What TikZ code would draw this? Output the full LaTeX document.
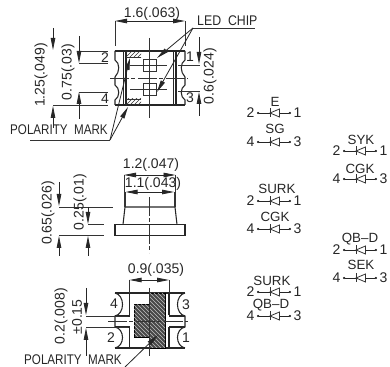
\documentclass[tikz,border=0pt]{standalone}
\usepackage{fontspec}
\setmainfont{Liberation Sans}
\usetikzlibrary{arrows.meta,patterns}
\tikzset{
  part/.style={line width=0.8pt,draw=black!85},
  thin part/.style={line width=0.6pt,draw=black!80},
  centre/.style={line width=0.6pt,draw=black!80,dash pattern=on 14pt off 2pt on 3pt off 2pt},
  dimarrow/.style={line width=0.6pt,draw=black!85,-{Stealth[length=9pt,width=3.4pt,inset=0pt]}},
  leader/.style={line width=0.6pt,draw=black!85,-{Stealth[length=9pt,width=3.4pt,inset=0pt]}},
  lbl/.style={inner sep=0pt,font=\fontsize{10.5pt}{10.5pt}\selectfont,text=black!85},
  cond/.style={lbl,xscale=0.83},
  dlbl/.style={inner sep=0pt,font=\fontsize{10pt}{10pt}\selectfont,text=black!85},
  wire/.style={line width=0.6pt,draw=black!85,{Circle[length=1.6pt]}-{Circle[length=1.6pt]}},
}
\newcommand{\diorow}[8]{%
  \node[dlbl] (#1t) at (#6,#7) {#5};
  \node[lbl] (#1a) at (#2-24.5,#3) {#4};
  \node[lbl] (#1z) at (#2+22.5,#3) {#8};
  \coordinate (#1l) at (#2-18,#3);
  \coordinate (#1r) at (#2+16,#3);
  \coordinate (#1b) at (#2-5,#3);
  \coordinate (#1c) at (#2+4.5,#3);
  \draw[wire] (#1l) -- (#1r);
  \draw[thin part,fill=white] (#1c) ++(0,-4) -- ++(0,8) -- (#1b) -- cycle;
  \draw[thin part] (#1b) ++(0,-4.5) -- ++(0,9);
}
\begin{document}
\begin{tikzpicture}[x=0.75pt,y=-0.75pt]
\useasboundingbox (0,0) rectangle (390,367);
%% ---------- top view
\draw[part] (115,51) -- (185,51);
\draw[part] (115,105) -- (185,105);
\draw[part] (115,51) -- (115,60) .. controls (120,63) and (120,72) .. (115,77) -- (115,85)
   .. controls (120,88) and (120,97) .. (115,100) -- (115,105);
\draw[part] (185,51) -- (185,60) .. controls (180,63) and (180,72) .. (185,77) -- (185,85)
   .. controls (180,88) and (180,97) .. (185,100) -- (185,105);
\draw[part] (123.5,51) -- (123.5,105) (126,51) -- (126,105);
\draw[part] (173.5,51) -- (173.5,105) (176,51) -- (176,105);
\fill[pattern=north east lines,pattern color=black!80] (126,52) rectangle (141,57.5);
\fill[pattern=north east lines,pattern color=black!80] (126,99) rectangle (141,104.5);
\draw[thin part] (126,57.5) -- (141,57.5) (126,99) -- (141,99);
\node[draw=black!80,line width=0.7pt,minimum size=9.7pt,inner sep=0pt] (chipa) at (149.5,65.5) {};
\node[draw=black!80,line width=0.7pt,minimum size=9.7pt,inner sep=0pt] (chipb) at (149.5,89.5) {};
\draw[thin part] (149.5,38) -- (149.5,118);
\draw[thin part] (130,65.5) -- (167,65.5) (130,89.5) -- (167,89.5);
\draw[centre] (110,78) -- (188,78);
%% dims, top view
\coordinate (t1) at (115,21); \coordinate (t2) at (185,21);
\draw[thin part] (115,46) -- (t1) (185,46) -- (t2);
\coordinate (tm) at (150,21);
\draw[dimarrow] (tm) -- (t1);
\draw[dimarrow] (tm) -- (t2);
\node[lbl] (d16) at (152,14) {1.6(.063)};
\draw[thin part] (53,105) -- (108,105) (79,51) -- (108,51) (79,63) -- (108,63) (79,92) -- (108,92);
\coordinate (a1) at (53,28); \coordinate (a2) at (53,50);
\draw[dimarrow] (a1) -- (a2);
\coordinate (a3) at (53,128); \coordinate (a4) at (53,106);
\draw[dimarrow] (a3) -- (a4);
\coordinate (b1) at (79,36); \coordinate (b2) at (79,63);
\draw[dimarrow] (b1) -- (b2);
\coordinate (b3) at (79,119); \coordinate (b4) at (79,92);
\draw[dimarrow] (b3) -- (b4);
\draw[thin part] (178,65) -- (200,65) (178,91) -- (200,91);
\coordinate (c1) at (199,37); \coordinate (c2) at (199,64);
\draw[dimarrow] (c1) -- (c2);
\coordinate (c3) at (199,116); \coordinate (c4) at (199,92);
\draw[dimarrow] (c3) -- (c4);
\node[lbl,rotate=90] (d125) at (41,75) {1.25(.049)};
\node[lbl,rotate=90] (d075) at (68,72) {0.75(.03)};
\node[lbl,rotate=90] (d06) at (210,76) {0.6(.024)};
\node[lbl] (n2) at (105,58) {2};
\node[lbl] (n4) at (105,99) {4};
\node[lbl] (n1) at (190,57) {1};
\node[lbl] (n3) at (190,98) {3};
%% LED chip leader
\node[lbl,anchor=west,xscale=0.88] (led) at (197,21) {LED\ \ CHIP};
\coordinate (lq) at (193,28);
\draw[thin part] (lq) -- (255,28);
\draw[leader] (lq) -- (157,58);
\draw[leader] (lq) -- (157,92);
%% polarity mark
\node[cond,anchor=west] (pol) at (10,130) {POLARITY\ \ MARK};
\coordinate (pq) at (110,140);
\draw[thin part] (30,140) -- (pq);
\draw[leader] (pq) -- (130,58);
\draw[leader] (pq) -- (128,107);
%% ---------- side view
\draw[part] (115,224.5) rectangle (185,235.7);
\draw[part] (123,224.5) -- (125,207) -- (175,207) -- (177,224.5);
\draw[thin part] (124,207) -- (124,175) (175.5,207) -- (175.5,175);
\draw[thin part] (125.5,207) -- (125.5,192) (174,207) -- (174,192);
\draw[centre] (149.5,197) -- (149.5,253);
\coordinate (e0) at (150,175); \coordinate (e1) at (124,175); \coordinate (e2) at (175.5,175);
\draw[dimarrow] (e0) -- (e1);
\draw[dimarrow] (e0) -- (e2);
\coordinate (f0) at (150,192); \coordinate (f1) at (125.5,192); \coordinate (f2) at (174,192);
\draw[dimarrow] (f0) -- (f1);
\draw[dimarrow] (f0) -- (f2);
\node[lbl] (d12) at (151,165) {1.2(.047)};
\node[lbl] (d11) at (153,184) {1.1(.043)};
\draw[thin part] (59,207) -- (113,207) (88,224.5) -- (104,224.5) (59,235.7) -- (104,235.7);
\coordinate (g1) at (59,182); \coordinate (g2) at (59,206);
\draw[dimarrow] (g1) -- (g2);
\coordinate (g3) at (59,256); \coordinate (g4) at (59,236);
\draw[dimarrow] (g3) -- (g4);
\coordinate (h1) at (88,207); \coordinate (h2) at (88,224);
\draw[dimarrow] (h1) -- (h2);
\coordinate (h3) at (88,256); \coordinate (h4) at (88,236);
\draw[dimarrow] (h3) -- (h4);
\node[lbl,rotate=90] (d065) at (48,213) {0.65(.026)};
\node[lbl,rotate=90] (d025) at (80,202) {0.25(.01)};
%% ---------- bottom view
\draw[part] (115,293) -- (185,293) (115,348) -- (185,348);
\draw[part] (115,293) .. controls (125,295) and (125,314) .. (115,316) -- (115,327)
   .. controls (125,329) and (125,346) .. (115,348);
\draw[part] (185,293) .. controls (175,295) and (175,314) .. (185,316) -- (185,327)
   .. controls (175,329) and (175,346) .. (185,348);
\draw[part] (129.5,293) -- (129.5,315) (129.5,327) -- (129.5,348);
\draw[part] (169,293) -- (169,315) (169,327) -- (169,348);
\draw[part] (115,316) -- (129.5,316) (115,327) -- (129.5,327);
\draw[part] (169,316) -- (185,316) (169,327) -- (185,327);
\draw[line width=0.6pt,draw=black,fill=black!72] (134,304.5) -- (149.5,304.5) -- (149.5,293) -- (165,293)
   -- (165,348) -- (149.5,348) -- (149.5,337) -- (134,337) -- cycle;
\fill[pattern=north west lines,pattern color=white!75!black] (134,304.5) -- (149.5,304.5) -- (149.5,293) -- (165,293)
   -- (165,348) -- (149.5,348) -- (149.5,337) -- (134,337) -- cycle;
\draw[thin part] (149.5,288) -- (149.5,356);
\draw[centre] (108,321) -- (188,321);
\draw[thin part] (86,316) -- (128,316) (86,327) -- (128,327);
\coordinate (i0) at (149,280); \coordinate (i1) at (129.5,280); \coordinate (i2) at (169,280);
\draw[thin part] (i1) -- (129.5,293) (i2) -- (169,293);
\draw[dimarrow] (i0) -- (i1);
\draw[dimarrow] (i0) -- (i2);
\node[lbl] (d09) at (156,270) {0.9(.035)};
\coordinate (j1) at (86,288); \coordinate (j2) at (86,315);
\draw[dimarrow] (j1) -- (j2);
\coordinate (j3) at (86,356); \coordinate (j4) at (86,328);
\draw[dimarrow] (j3) -- (j4);
\node[lbl,rotate=90] (d02) at (61,316) {0.2(.008)};
\node[lbl,rotate=90] (d015) at (77,317) {±0.15};
\node[lbl] (m4) at (114,304) {4};
\node[lbl] (m3) at (186,305) {3};
\node[lbl] (m2) at (111,338) {2};
\node[lbl] (m1) at (186,338) {1};
\node[cond,anchor=west] (pol2) at (24,360) {POLARITY\ \ MARK};
\coordinate (pr) at (125,367);
\draw[leader] (pr) -- (158,335);
%% ---------- diode rows
\diorow{ra}{275}{113}{2}{E}{275}{102}{1}
\diorow{rb}{275}{142}{4}{SG}{275}{129}{3}
\diorow{rc}{361}{151}{2}{SYK}{361}{140}{1}
\diorow{rd}{361}{179}{4}{CGK}{360}{169}{3}
\diorow{re}{275}{201}{2}{SURK}{277}{189}{1}
\diorow{rf}{275}{229}{4}{CGK}{275}{217}{3}
\diorow{rg}{361}{250}{2}{QB--D}{360}{239}{1}
\diorow{rh}{361}{278}{4}{SEK}{361}{265}{3}
\diorow{ri}{275}{292}{2}{SURK}{272}{281}{1}
\diorow{rj}{275}{316}{4}{QB--D}{271}{305}{3}
\end{tikzpicture}
\end{document}
